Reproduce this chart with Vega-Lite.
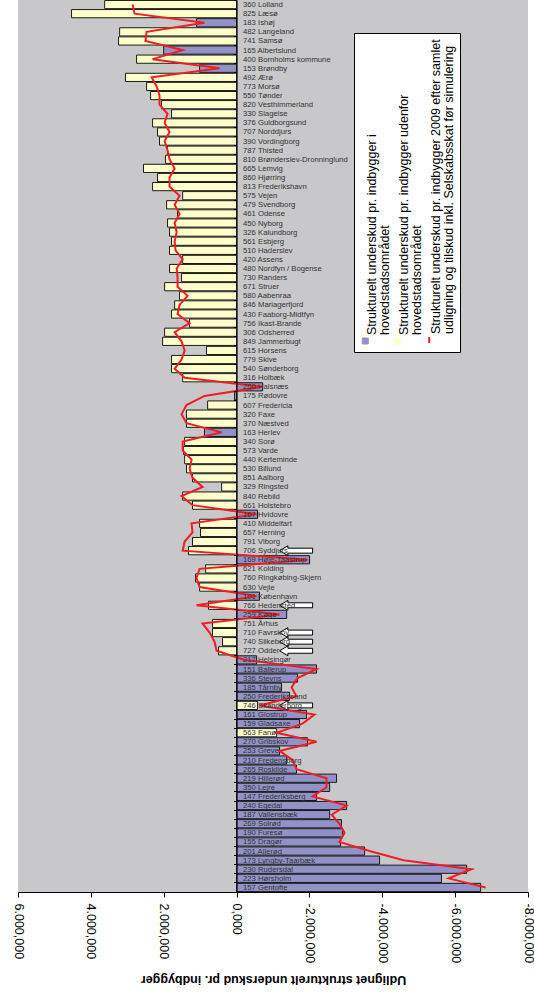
{
  "$schema": "https://vega.github.io/schema/vega-lite/v6.json",
  "width": 510,
  "height": 892,
  "autosize": {"type": "none"},
  "padding": {"left": 18, "top": 0, "right": 6, "bottom": 101},
  "background": "white",
  "config": {
    "view": {"fill": "#c8c8ca", "stroke": null},
    "font": "Liberation Sans"
  },
  "datasets": {
    "kom": [
      {"i": 1, "k": "360 Lolland", "g": "b", "v": 3620, "r": 2855},
      {"i": 2, "k": "825 Læsø", "g": "b", "v": 4530, "r": 2800},
      {"i": 3, "k": "183 Ishøj", "g": "a", "v": 1100, "r": 880},
      {"i": 4, "k": "482 Langeland", "g": "b", "v": 3210, "r": 2470},
      {"i": 5, "k": "741 Samsø", "g": "b", "v": 3240, "r": 2500},
      {"i": 6, "k": "165 Albertslund", "g": "a", "v": 2000, "r": 1480},
      {"i": 7, "k": "400 Bornholms kommune", "g": "b", "v": 2745, "r": 2305},
      {"i": 8, "k": "153 Brøndby", "g": "a", "v": 1015, "r": 470},
      {"i": 9, "k": "492 Ærø", "g": "b", "v": 3050, "r": 2330},
      {"i": 10, "k": "773 Morsø", "g": "b", "v": 2470, "r": 2195},
      {"i": 11, "k": "550 Tønder", "g": "b", "v": 2360, "r": 2115},
      {"i": 12, "k": "820 Vesthimmerland", "g": "b", "v": 2060, "r": 2115},
      {"i": 13, "k": "330 Slagelse", "g": "b", "v": 1785, "r": 1895},
      {"i": 14, "k": "376 Guldborgsund", "g": "b", "v": 2305, "r": 1975},
      {"i": 15, "k": "707 Norddjurs", "g": "b", "v": 2170, "r": 1840},
      {"i": 16, "k": "390 Vordingborg", "g": "b", "v": 2115, "r": 1975},
      {"i": 17, "k": "787 Thisted", "g": "b", "v": 1895, "r": 1895},
      {"i": 18, "k": "810 Brønderslev-Dronninglund", "g": "b", "v": 1950, "r": 1840},
      {"i": 19, "k": "665 Lemvig", "g": "b", "v": 2555, "r": 1700},
      {"i": 20, "k": "860 Hjørring", "g": "b", "v": 2170, "r": 1840},
      {"i": 21, "k": "813 Frederikshavn", "g": "b", "v": 2305, "r": 1840},
      {"i": 22, "k": "575 Vejen", "g": "b", "v": 1480, "r": 1565},
      {"i": 23, "k": "479 Svendborg", "g": "b", "v": 1920, "r": 1700},
      {"i": 24, "k": "461 Odense", "g": "b", "v": 1620, "r": 1565},
      {"i": 25, "k": "450 Nyborg", "g": "b", "v": 1895, "r": 1700},
      {"i": 26, "k": "326 Kalundborg", "g": "b", "v": 1840, "r": 1645},
      {"i": 27, "k": "561 Esbjerg", "g": "b", "v": 1785, "r": 1700},
      {"i": 28, "k": "510 Haderslev", "g": "b", "v": 1840, "r": 1675},
      {"i": 29, "k": "420 Assens", "g": "b", "v": 1480, "r": 1480},
      {"i": 30, "k": "480 Nordfyn / Bogense", "g": "b", "v": 1840, "r": 1645},
      {"i": 31, "k": "730 Randers", "g": "b", "v": 1510, "r": 1620},
      {"i": 32, "k": "671 Struer", "g": "b", "v": 1975, "r": 1620},
      {"i": 33, "k": "580 Aabenraa", "g": "b", "v": 1565, "r": 1345},
      {"i": 34, "k": "846 Mariagerfjord", "g": "b", "v": 1700, "r": 1565},
      {"i": 35, "k": "430 Faaborg-Midtfyn", "g": "b", "v": 1785, "r": 1620},
      {"i": 36, "k": "756 Ikast-Brande", "g": "b", "v": 1290, "r": 1290},
      {"i": 37, "k": "306 Odsherred", "g": "b", "v": 1975, "r": 1700},
      {"i": 38, "k": "849 Jammerbugt", "g": "b", "v": 2030, "r": 1510},
      {"i": 39, "k": "615 Horsens", "g": "b", "v": 825, "r": 1425},
      {"i": 40, "k": "779 Skive", "g": "b", "v": 1785, "r": 1510},
      {"i": 41, "k": "540 Sønderborg", "g": "b", "v": 1785, "r": 1700},
      {"i": 42, "k": "316 Holbæk", "g": "b", "v": 1480, "r": 1425},
      {"i": 43, "k": "260 Halsnæs", "g": "a", "v": -715, "r": -715},
      {"i": 44, "k": "175 Rødovre", "g": "a", "v": 55, "r": 880},
      {"i": 45, "k": "607 Fredericia", "g": "b", "v": 795, "r": 1375},
      {"i": 46, "k": "320 Faxe", "g": "b", "v": 1375, "r": 1510},
      {"i": 47, "k": "370 Næstved", "g": "b", "v": 1375, "r": 1375},
      {"i": 48, "k": "163 Herlev", "g": "a", "v": 880, "r": 410},
      {"i": 49, "k": "340 Sorø", "g": "b", "v": 1425, "r": 1480},
      {"i": 50, "k": "573 Varde", "g": "b", "v": 1455, "r": 1480},
      {"i": 51, "k": "440 Kerteminde", "g": "b", "v": 1425, "r": 1235},
      {"i": 52, "k": "530 Billund", "g": "b", "v": 1375, "r": 1290},
      {"i": 53, "k": "851 Aalborg", "g": "b", "v": 1210, "r": 1210},
      {"i": 54, "k": "329 Ringsted", "g": "b", "v": 410, "r": 935},
      {"i": 55, "k": "840 Rebild", "g": "b", "v": 1480, "r": 1510},
      {"i": 56, "k": "661 Holstebro", "g": "b", "v": 1210, "r": 1210},
      {"i": 57, "k": "167 Hvidovre", "g": "a", "v": -575, "r": -550},
      {"i": 58, "k": "410 Middelfart", "g": "b", "v": 1015, "r": 1235},
      {"i": 59, "k": "657 Herning", "g": "b", "v": 990, "r": 1210},
      {"i": 60, "k": "791 Viborg", "g": "b", "v": 1210, "r": 1425},
      {"i": 61, "k": "706 Syddjurs", "g": "b", "v": 1320, "r": 1480},
      {"i": 62, "k": "169 Høje-Taastrup", "g": "a", "v": -2005, "r": -1950},
      {"i": 63, "k": "621 Kolding", "g": "b", "v": 850, "r": 1015},
      {"i": 64, "k": "760 Ringkøbing-Skjern", "g": "b", "v": 1125, "r": 1100},
      {"i": 65, "k": "630 Vejle", "g": "b", "v": 1015, "r": 1015},
      {"i": 66, "k": "101 København", "g": "a", "v": -630, "r": -550},
      {"i": 67, "k": "766 Hedensted", "g": "b", "v": 770, "r": 1100},
      {"i": 68, "k": "259 Køge", "g": "a", "v": -1375, "r": -1180},
      {"i": 69, "k": "751 Århus", "g": "b", "v": 660, "r": 935},
      {"i": 70, "k": "710 Favrskov", "g": "b", "v": 660, "r": 740},
      {"i": 71, "k": "740 Silkeborg", "g": "b", "v": 385, "r": 605},
      {"i": 72, "k": "727 Odder", "g": "b", "v": 495, "r": 550},
      {"i": 73, "k": "217 Helsingør", "g": "a", "v": -550, "r": -220},
      {"i": 74, "k": "151 Ballerup", "g": "a", "v": -2195, "r": -2195},
      {"i": 75, "k": "336 Stevns", "g": "a", "v": -1675, "r": -1675},
      {"i": 76, "k": "185 Tårnby", "g": "a", "v": -1235, "r": -1510},
      {"i": 77, "k": "250 Frederikssund", "g": "a", "v": -1455, "r": -1645},
      {"i": 78, "k": "746 Skanderborg", "g": "b", "v": -575, "r": -630},
      {"i": 79, "k": "161 Glostrup", "g": "a", "v": -1920, "r": -2140},
      {"i": 80, "k": "159 Gladsaxe", "g": "a", "v": -1730, "r": -1810},
      {"i": 81, "k": "563 Fanø", "g": "b", "v": -1100, "r": -1100},
      {"i": 82, "k": "270 Gribskov", "g": "a", "v": -1950, "r": -2195},
      {"i": 83, "k": "253 Greve", "g": "a", "v": -1180, "r": -1180},
      {"i": 84, "k": "210 Fredensborg", "g": "a", "v": -1375, "r": -1535},
      {"i": 85, "k": "265 Roskilde", "g": "a", "v": -1645, "r": -1645},
      {"i": 86, "k": "219 Hillerød", "g": "a", "v": -2745, "r": -2470},
      {"i": 87, "k": "350 Lejre", "g": "a", "v": -2555, "r": -2470},
      {"i": 88, "k": "147 Frederiksberg", "g": "a", "v": -2195, "r": -2085},
      {"i": 89, "k": "240 Egedal", "g": "a", "v": -3020, "r": -3020},
      {"i": 90, "k": "187 Vallensbæk", "g": "a", "v": -2555, "r": -2610},
      {"i": 91, "k": "269 Solrød", "g": "a", "v": -2880, "r": -2825},
      {"i": 92, "k": "190 Furesø", "g": "a", "v": -2910, "r": -2965},
      {"i": 93, "k": "155 Dragør", "g": "a", "v": -2855, "r": -2825},
      {"i": 94, "k": "201 Allerød", "g": "a", "v": -3515, "r": -3650},
      {"i": 95, "k": "173 Lyngby-Taarbæk", "g": "a", "v": -3925, "r": -4585},
      {"i": 96, "k": "230 Rudersdal", "g": "a", "v": -6315, "r": -6450},
      {"i": 97, "k": "223 Hørsholm", "g": "a", "v": -5625, "r": -5820},
      {"i": 98, "k": "157 Gentofte", "g": "a", "v": -6700, "r": -6835}
    ],
    "pile": [
      {"k": "706 Syddjurs", "x": -1635},
      {"k": "766 Hedensted", "x": -1635},
      {"k": "710 Favrskov", "x": -1635},
      {"k": "740 Silkeborg", "x": -1635},
      {"k": "727 Odder", "x": -1635},
      {"k": "746 Skanderborg", "x": -1635}
    ]
  },
  "layer": [
    {
      "data": {"name": "kom"},
      "mark": {"type": "bar", "stroke": "#1a1a1a", "strokeWidth": 1},
      "encoding": {
        "y": {
          "field": "k", "type": "nominal", "sort": null,
          "scale": {"paddingInner": 0.1, "paddingOuter": 0.05},
          "axis": {
            "title": null, "orient": "left", "offset": -218.57,
            "labelAlign": "left", "labelBaseline": "middle", "labelPadding": -9,
            "tickSize": 3, "tickBand": "extent", "tickColor": "#000",
            "domainColor": "#000", "labelFontSize": 7.7, "labelColor": "#333",
            "labelLimit": 0, "zindex": 1
          }
        },
        "x": {
          "field": "v", "type": "quantitative",
          "scale": {"domain": [-8000, 6000], "reverse": true, "nice": false, "zero": false},
          "axis": {
            "values": [6000, 4000, 2000, 0, -2000, -4000, -6000, -8000],
            "grid": false, "labelAngle": 90, "labelAlign": "left", "labelBaseline": "middle",
            "labelFlush": false, "labelFontSize": 12.5, "labelColor": "#000", "labelPadding": 6,
            "tickSize": 5, "tickColor": "#000", "domainColor": "#000",
            "labelExpr": "(datum.value < 0 ? '-' : '') + replace(replace(replace(format(abs(datum.value), ',.3f'), regexp(',', 'g'), '_'), regexp('[.]', 'g'), ','), regexp('_', 'g'), '.')",
            "title": "Udlignet strukturelt underskud pr. indbygger",
            "titleAngle": 180, "titleBaseline": "bottom", "titleFontSize": 12.5,
            "titleFontWeight": "bold", "titleColor": "#000", "titlePadding": 10
          }
        },
        "color": {
          "field": "g", "type": "nominal",
          "scale": {"domain": ["a", "b", "c"], "range": ["#9292c9", "#ffffcc", "#f01e23"]},
          "legend": {
            "orient": "none", "legendX": 336, "legendY": 33,
            "direction": "horizontal", "columns": 3, "title": null,
            "fillColor": "white", "strokeColor": "#000", "padding": 5,
            "columnPadding": -2, "labelFontSize": 12.5, "labelColor": "#000",
            "labelLimit": 0, "symbolSize": 36, "symbolOffset": 0, "labelOffset": -6,
            "symbolType": "square",
            "labelExpr": "datum.label == 'a' ? ['Strukturelt underskud pr. indbygger i', 'hovedstadsområdet'] : datum.label == 'b' ? ['Strukturelt underskud pr. indbygger udenfor', 'hovedstadsområdet'] : ['Strukturelt underskud pr. indbygger 2009 efter samlet', 'udligning og tilskud inkl. Selskabsskat før simulering']",
            "encoding": {
              "symbols": {
                "y": {"value": 302},
                "shape": {"value": {"expr": "datum.value == 'c' ? 'stroke' : 'square'"}},
                "angle": {"value": {"expr": "datum.value == 'c' ? 90 : 0"}},
                "fill": {"value": {"expr": "datum.value == 'a' ? '#9292c9' : datum.value == 'b' ? '#ffffcc' : 'transparent'"}},
                "stroke": {"value": {"expr": "datum.value == 'c' ? '#f01e23' : '#000000'"}},
                "strokeWidth": {"value": {"expr": "datum.value == 'c' ? 2 : 1"}},
                "opacity": {"value": 1}
              },
              "labels": {
                "y": {"value": 302},
                "angle": {"value": -90},
                "align": {"value": "left"},
                "baseline": {"value": "top"},
                "dx": {"value": 6},
                "lineHeight": {"value": 13}
              }
            }
          }
        }
      }
    },
    {
      "data": {"name": "kom"},
      "mark": {"type": "line", "strokeWidth": 2},
      "encoding": {
        "y": {"field": "k", "type": "nominal", "sort": null},
        "x": {"field": "r", "type": "quantitative"},
        "order": {"field": "i", "type": "quantitative"},
        "color": {"datum": "c"}
      }
    },
    {
      "data": {"name": "pile"},
      "mark": {
        "type": "point", "filled": true, "fill": "white", "stroke": "#000", "strokeWidth": 1, "opacity": 1,
        "shape": "M -1 0 L -0.5 -0.3 L -0.5 -0.15 L 1 -0.15 L 1 0.15 L -0.5 0.15 L -0.5 0.3 Z",
        "size": 1089
      },
      "encoding": {
        "y": {"field": "k", "type": "nominal", "sort": null},
        "x": {"field": "x", "type": "quantitative"}
      }
    }
  ]
}
